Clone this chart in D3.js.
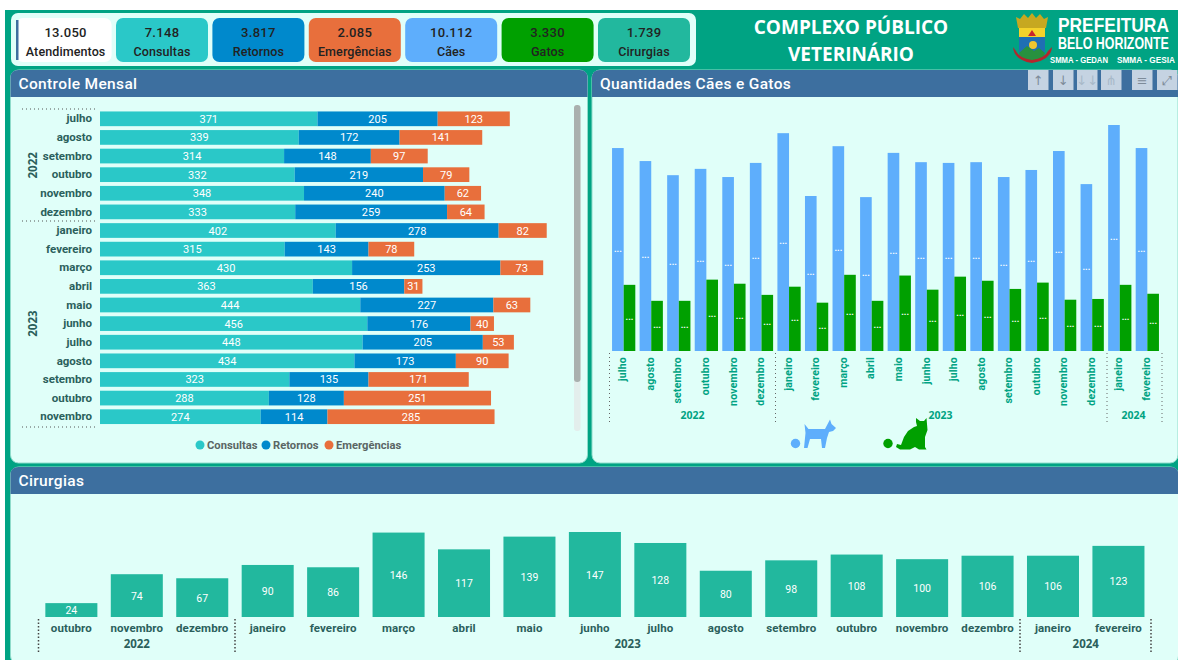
<!DOCTYPE html>
<html>
<head>
<meta charset="utf-8">
<script src="https://cdnjs.cloudflare.com/ajax/libs/d3/7.8.5/d3.min.js"></script>
<style>
html, body { margin: 0; padding: 0; background: #fff; overflow: hidden; }
svg { display: block; }
text { font-family: Roboto, 'Noto Sans', sans-serif; }
.axis path, .axis line { display: none; }
</style>
</head>
<body>
<script>
// month rows of the stacked chart (the rest sits behind the scrollbar)
var mesesControle = ['julho', 'agosto', 'setembro', 'outubro', 'novembro', 'dezembro', 'janeiro', 'fevereiro', 'março', 'abril', 'maio', 'junho', 'julho', 'agosto', 'setembro', 'outubro', 'novembro']
var anosControle = [2022, 2022, 2022, 2022, 2022, 2022, 2023, 2023, 2023, 2023, 2023, 2023, 2023, 2023, 2023, 2023, 2023]
var consultas = [371, 339, 314, 332, 348, 333, 402, 315, 430, 363, 444, 456, 448, 434, 323, 288, 274]
var retornos = [205, 172, 148, 219, 240, 259, 278, 143, 253, 156, 227, 176, 205, 173, 135, 128, 114]
var emergencias = [123, 141, 97, 79, 62, 64, 82, 78, 73, 31, 63, 40, 53, 90, 171, 251, 285]

var mesesPets = ['julho', 'agosto', 'setembro', 'outubro', 'novembro', 'dezembro', 'janeiro', 'fevereiro', 'março', 'abril', 'maio', 'junho', 'julho', 'agosto', 'setembro', 'outubro', 'novembro', 'dezembro', 'janeiro', 'fevereiro']
var anosPets = [2022, 2022, 2022, 2022, 2022, 2022, 2023, 2023, 2023, 2023, 2023, 2023, 2023, 2023, 2023, 2023, 2023, 2023, 2024, 2024]
var caes = [546, 511, 473, 490, 468, 506, 586, 417, 551, 414, 533, 508, 506, 508, 468, 487, 538, 449, 608, 546]
var gatos = [178, 135, 135, 192, 181, 151, 173, 130, 205, 135, 203, 165, 200, 189, 167, 184, 138, 140, 178, 154]

var mesesCirurgias = ['outubro', 'novembro', 'dezembro', 'janeiro', 'fevereiro', 'março', 'abril', 'maio', 'junho', 'julho', 'agosto', 'setembro', 'outubro', 'novembro', 'dezembro', 'janeiro', 'fevereiro']
var anosCirurgias = [2022, 2022, 2022, 2023, 2023, 2023, 2023, 2023, 2023, 2023, 2023, 2023, 2023, 2023, 2023, 2024, 2024]
var cirurgias = [24, 74, 67, 90, 86, 146, 117, 139, 147, 128, 80, 98, 108, 100, 106, 106, 123]

var cartaoNomes = ['Atendimentos', 'Consultas', 'Retornos', 'Emergências', 'Cães', 'Gatos', 'Cirurgias']
var cartaoValores = ['13.050', '7.148', '3.817', '2.085', '10.112', '3.330', '1.739']
var cartaoCores = ['#ffffff', '#2ac8c8', '#0089cc', '#e86f3c', '#5eaefc', '#00a000', '#22b89e']

var verde = '#00a383', azulTopo = '#3d6f9f', fundo = '#e0fff9', textoEscuro = '#2b5f5c'
var corStack = {consultas: '#2ac8c8', retornos: '#0089cc', emergencias: '#e86f3c'}

var svg = d3.select('body').append('svg').attr('width', 1178).attr('height', 660)

svg.append('rect').attr('x', 5).attr('y', 10).attr('width', 1173).attr('height', 650).style('fill', verde)

function chave(meses, anos){ return meses.map(function(m, i){ return i + '|' + m + '|' + anos[i] }) }
function nomeMes(k){ return k.split('|')[1] }

// panels
function painel(x, y, w, h, titulo){
  svg.append('rect').attr('x', x).attr('y', y).attr('width', w).attr('height', h).attr('rx', 8)
    .style('fill', fundo).style('stroke', '#8fdccb')
  svg.append('path')
    .attr('d', 'M' + x + ',' + (y + 27) + 'V' + (y + 8) + 'Q' + x + ',' + y + ' ' + (x + 8) + ',' + y + 'H' + (x + w - 8) + 'Q' + (x + w) + ',' + y + ' ' + (x + w) + ',' + (y + 8) + 'V' + (y + 27) + 'Z')
    .style('fill', azulTopo)
  svg.append('text').attr('x', x + 8).attr('y', y + 18.5).text(titulo)
    .style('fill', '#fff').style('font-size', '15.5px').style('font-weight', 500).style('letter-spacing', '.35px')
}
painel(10.5, 70, 577, 393, 'Controle Mensal')
painel(592, 70, 586, 393, 'Quantidades Cães e Gatos')
painel(10.5, 467, 1168, 197, 'Cirurgias')

// KPI cards
svg.append('rect').attr('x', 11).attr('y', 13).attr('width', 685).attr('height', 53).attr('rx', 7).style('fill', fundo)
var xCartao = d3.scaleBand().domain(cartaoNomes).range([19.6, 690]).paddingInner(0.0456)
svg.append('rect').attr('x', 16).attr('y', 18).attr('width', 20).attr('height', 44).attr('rx', 7).style('fill', '#fff')
var cartao = svg.append('g').selectAll('g').data(cartaoNomes).enter().append('g')
  .attr('transform', function(d){ return 'translate(' + xCartao(d) + ',18)' })
cartao.append('rect').attr('width', xCartao.bandwidth()).attr('height', 44).attr('rx', 7)
  .style('fill', function(d, i){ return cartaoCores[i] })
svg.append('rect').attr('x', 16).attr('y', 20).attr('width', 2.5).attr('height', 40).style('fill', azulTopo)
cartao.append('text').attr('x', xCartao.bandwidth() / 2).attr('y', 18.5).attr('text-anchor', 'middle')
  .text(function(d, i){ return cartaoValores[i] })
  .style('font-size', '13px').style('font-weight', 500).style('fill', '#222').style('letter-spacing', '.3px')
cartao.append('text').attr('x', xCartao.bandwidth() / 2).attr('y', 38).attr('text-anchor', 'middle')
  .text(function(d){ return d })
  .style('font-size', '12.5px').style('font-weight', 500).style('fill', '#222').style('letter-spacing', '.1px')

// title
svg.selectAll('.titulo').data(['COMPLEXO PÚBLICO', 'VETERINÁRIO']).enter().append('text')
  .attr('x', 851).attr('y', function(d, i){ return 34 + i * 27 }).attr('text-anchor', 'middle').text(function(d){ return d })
  .style('font-family', "'Open Sans'").style('font-size', '19px').style('font-weight', 700).style('fill', '#fff')

// logo
var logo = svg.append('g')
logo.append('path').attr('d', 'M1018,28L1016,17L1020,19L1024,14L1028,18L1032,13L1036,18L1040,14L1044,19L1048,17L1046,28Z').style('fill', '#c6a820')
logo.append('rect').attr('x', 1019).attr('y', 28).attr('width', 26).attr('height', 9).style('fill', '#f4d22a')
logo.append('path').attr('d', 'M1028,36L1032,30L1036,36Z').style('fill', '#c8252c')
logo.append('path').attr('d', 'M1019,37H1045V50Q1045,59 1032,62Q1019,59 1019,50Z').style('fill', '#1f6fb4')
logo.append('circle').attr('cx', 1033).attr('cy', 45).attr('r', 4).style('fill', '#f0c62e')
logo.append('path').attr('d', 'M1019,53L1027,46L1034,51L1039,48L1045,53Q1043,60 1032,62Q1021,60 1019,53Z').style('fill', '#27913f')
logo.append('path').attr('d', 'M1013,47Q1014,60 1032,63Q1051,60 1052,47L1048,51Q1045,58 1032,60Q1019,58 1016,51Z').style('fill', '#b3262d')

var logoTextos = [
  {t: 'PREFEITURA', x: 1058, y: 32, s: 21, w: 111},
  {t: 'BELO HORIZONTE', x: 1058, y: 49, s: 16.5, w: 111},
  {t: 'SMMA - GEDAN', x: 1050, y: 63, s: 9.6, w: 58},
  {t: 'SMMA - GESIA', x: 1117, y: 63, s: 9.6, w: 58}
]
svg.append('g').selectAll('text').data(logoTextos).enter().append('text')
  .text(function(d){ return d.t })
  .style('font-family', "'Liberation Sans'").style('font-weight', 700).style('fill', '#fff')
  .style('font-size', function(d){ return d.s + 'px' })
  // no narrow font here, squeeze the text into its width
  .attr('transform', function(d){
    return 'translate(' + d.x + ',' + d.y + ') scale(' + d.w / this.getComputedTextLength() + ',1)'
  })

// visual header buttons
var xBotoes = [1028, 1053, 1077, 1101, 1132, 1157]
var iconesBotao = ['↑', '↓', '↓↓', '⋔', '≡', '⤢']
var botao = svg.append('g').selectAll('g').data(xBotoes).enter().append('g')
  .attr('transform', function(d){ return 'translate(' + d + ',70)' })
botao.append('rect').attr('width', 20.5).attr('height', 20).style('fill', '#c5d3e2')
botao.append('text').attr('x', 10.2).attr('y', 15).attr('text-anchor', 'middle')
  .text(function(d, i){ return iconesBotao[i] })
  .style('font-family', "'DejaVu Sans'").style('font-size', '13px').style('fill', function(d, i){ return i == 2 || i == 3 ? '#a8b9c9' : '#7d8b99' })

// ---- stacked bars
!(function(){
  var chaves = chave(mesesControle, anosControle)
  var x = d3.scaleLinear().domain([0, 800]).range([100, 569])
  var y = d3.scaleBand().domain(chaves).range([109.5, 426]).paddingInner(0.21).paddingOuter(0.105)

  var linhas = chaves.map(function(k, i){ return {k: k, consultas: consultas[i], retornos: retornos[i], emergencias: emergencias[i]} })
  var series = d3.stack().keys(['consultas', 'retornos', 'emergencias'])(linhas)

  var g = svg.append('g').selectAll('g').data(series).enter().append('g')
    .style('fill', function(d){ return corStack[d.key] })

  g.selectAll('rect').data(function(d){ return d }).enter().append('rect')
    .attr('x', function(d){ return x(d[0]) })
    .attr('y', function(d){ return y(d.data.k) })
    .attr('width', function(d){ return x(d[1]) - x(d[0]) })
    .attr('height', y.bandwidth())

  g.selectAll('text').data(function(d){ return d }).enter().append('text')
    .attr('x', function(d){ return (x(d[0]) + x(d[1])) / 2 })
    .attr('y', function(d){ return y(d.data.k) + y.bandwidth() / 2 + 4 })
    .attr('text-anchor', 'middle')
    .text(function(d){ return d[1] - d[0] })
    .style('fill', '#fff').style('font-size', '11px')

  var eixo = svg.append('g').attr('class', 'axis').attr('transform', 'translate(92,0)')
    .call(d3.axisLeft(y).tickSize(0).tickPadding(0).tickFormat(nomeMes))
  eixo.selectAll('text').style('font-size', '11.5px').style('font-weight', 700).style('fill', textoEscuro)

  var yPontos = [109, 221, 427]
  svg.append('g').selectAll('line').data(yPontos).enter().append('line')
    .attr('x1', 22).attr('x2', 96).attr('y1', function(d){ return d }).attr('y2', function(d){ return d })
    .style('stroke', '#555').style('stroke-dasharray', '1 3')

  var anos = d3.groups(chaves, function(k){ return k.split('|')[2] })
  svg.append('g').selectAll('text').data(anos).enter().append('text')
    .attr('transform', function(d){
      var meio = (y(d[1][0]) + y(d[1][d[1].length - 1]) + y.bandwidth()) / 2
      return 'translate(37,' + meio + ') rotate(-90)'
    })
    .attr('text-anchor', 'middle').text(function(d){ return d[0] })
    .style('font-size', '11.5px').style('font-weight', 700).style('fill', textoEscuro).style('font-family', "'Noto Sans'")

  // scrollbar
  svg.append('rect').attr('x', 574).attr('y', 105).attr('width', 6.5).attr('height', 326).attr('rx', 3).style('fill', '#e3eeec')
  svg.append('rect').attr('x', 574).attr('y', 105).attr('width', 6.5).attr('height', 277).attr('rx', 3).style('fill', '#a9b0ae')

  // legend
  var itens = [['Consultas', corStack.consultas, 200], ['Retornos', corStack.retornos, 266], ['Emergências', corStack.emergencias, 329]]
  var leg = svg.append('g').selectAll('g').data(itens).enter().append('g')
    .attr('transform', function(d){ return 'translate(' + d[2] + ',445)' })
  leg.append('circle').attr('r', 4.5).style('fill', function(d){ return d[1] })
  leg.append('text').attr('x', 7).attr('y', 4).text(function(d){ return d[0] })
    .style('font-size', '11.2px').style('font-weight', 700).style('fill', '#5a6664')
})()

// ---- dogs and cats
!(function(){
  var chaves = chave(mesesPets, anosPets)
  var x = d3.scaleBand().domain(chaves).range([609.9, 1161.1]).paddingInner(0.156).paddingOuter(0.078)
  var y = d3.scaleLinear().domain([0, 608]).range([351, 125])
  var x1 = d3.scaleBand().domain(['caes', 'gatos']).range([0, x.bandwidth()])

  var pares = [['caes', caes, '#5eaefc'], ['gatos', gatos, '#00a000']]
  pares.forEach(function(p){
    var g = svg.append('g')
    g.selectAll('rect').data(p[1]).enter().append('rect')
      .attr('x', function(d, i){ return x(chaves[i]) + x1(p[0]) })
      .attr('y', function(d){ return y(d) })
      .attr('width', x1.bandwidth())
      .attr('height', function(d){ return y(0) - y(d) })
      .style('fill', p[2])
    g.selectAll('text').data(p[1]).enter().append('text')
      .attr('x', function(d, i){ return x(chaves[i]) + x1(p[0]) + x1.bandwidth() / 2 })
      .attr('y', function(d){ return (y(d) + y(0)) / 2 + 2 })
      .attr('text-anchor', 'middle').text('...')
      .style('fill', '#fff').style('font-size', '9px').style('font-weight', 700)
  })

  var eixo = svg.append('g').attr('class', 'axis').attr('transform', 'translate(-1,357)')
    .call(d3.axisBottom(x).tickSize(0).tickPadding(0).tickFormat(nomeMes))
  eixo.selectAll('text')
    .attr('transform', 'rotate(-90)').attr('text-anchor', 'end').attr('x', 0).attr('y', 0).attr('dy', '.35em')
    .style('font-size', '10.5px').style('font-weight', 700).style('fill', verde).style('letter-spacing', '.2px')

  svg.append('g').selectAll('line').data([609.5, 775.5, 1107, 1162]).enter().append('line')
    .attr('x1', function(d){ return d }).attr('x2', function(d){ return d }).attr('y1', 353).attr('y2', 424)
    .style('stroke', '#666').style('stroke-dasharray', '1 3')

  var anos = d3.groups(chaves, function(k){ return k.split('|')[2] })
  svg.append('g').selectAll('text').data(anos).enter().append('text')
    .attr('x', function(d){ return (x(d[1][0]) + x(d[1][d[1].length - 1]) + x.bandwidth()) / 2 })
    .attr('y', 419).attr('text-anchor', 'middle').text(function(d){ return d[0] })
    .style('font-size', '10.5px').style('font-weight', 700).style('fill', verde).style('font-family', "'Noto Sans'")

  // legend with the pet icons
  svg.append('circle').attr('cx', 795.5).attr('cy', 443.5).attr('r', 4.7).style('fill', '#5eaefc')
  svg.append('path').style('fill', '#5eaefc')
    .attr('d', 'M804.5,424L808.5,429L825,429L830,419.5L831.5,424L836,428L833,431L829,432L827,438L825,448L822,448L821,439L810,439L807.5,448L804,448L805.5,433Z')
  svg.append('circle').attr('cx', 888).attr('cy', 443.5).attr('r', 4.7).style('fill', '#00a000')
  svg.append('path').style('fill', '#00a000')
    .attr('d', 'M916,418L920,421L924,421L926.5,418L927.5,430L925,437L925,447L926.5,449.5L919,449.5L915,447L910,449.5L900,449.5L896,447L897,444L901,445L904,437L908,431L914,427L917,426L916,422Z')
})()

// ---- surgeries
!(function(){
  var chaves = chave(mesesCirurgias, anosCirurgias)
  var x = d3.scaleBand().domain(chaves).range([38.8, 1151]).paddingInner(0.205).paddingOuter(0.1)
  var y = d3.scaleLinear().domain([0, 147]).range([617, 532])

  var g = svg.append('g')
  g.selectAll('rect').data(cirurgias).enter().append('rect')
    .attr('x', function(d, i){ return x(chaves[i]) })
    .attr('y', function(d){ return y(d) })
    .attr('width', x.bandwidth())
    .attr('height', function(d){ return y(0) - y(d) })
    .style('fill', '#22b89e')
  g.selectAll('text').data(cirurgias).enter().append('text')
    .attr('x', function(d, i){ return x(chaves[i]) + x.bandwidth() / 2 })
    .attr('y', function(d){ return (y(d) + y(0)) / 2 + 4 })
    .attr('text-anchor', 'middle').text(function(d){ return d })
    .style('fill', '#fff').style('font-size', '10.5px')

  var eixo = svg.append('g').attr('class', 'axis').attr('transform', 'translate(0,624)')
    .call(d3.axisBottom(x).tickSize(0).tickPadding(0).tickFormat(nomeMes))
  eixo.selectAll('text').style('font-size', '11.5px').style('font-weight', 700).style('fill', textoEscuro).style('letter-spacing', '.1px')

  svg.append('g').selectAll('line').data([38.5, 235, 1020, 1151]).enter().append('line')
    .attr('x1', function(d){ return d }).attr('x2', function(d){ return d }).attr('y1', 619).attr('y2', 654)
    .style('stroke', '#444').style('stroke-width', 1.5).style('stroke-dasharray', '1.5 2')

  var anos = d3.groups(chaves, function(k){ return k.split('|')[2] })
  svg.append('g').selectAll('text').data(anos).enter().append('text')
    .attr('x', function(d){ return (x(d[1][0]) + x(d[1][d[1].length - 1]) + x.bandwidth()) / 2 })
    .attr('y', 648).attr('text-anchor', 'middle').text(function(d){ return d[0] })
    .style('font-size', '11.5px').style('font-weight', 700).style('fill', textoEscuro).style('font-family', "'Noto Sans'")
})()
</script>
</body>
</html>
